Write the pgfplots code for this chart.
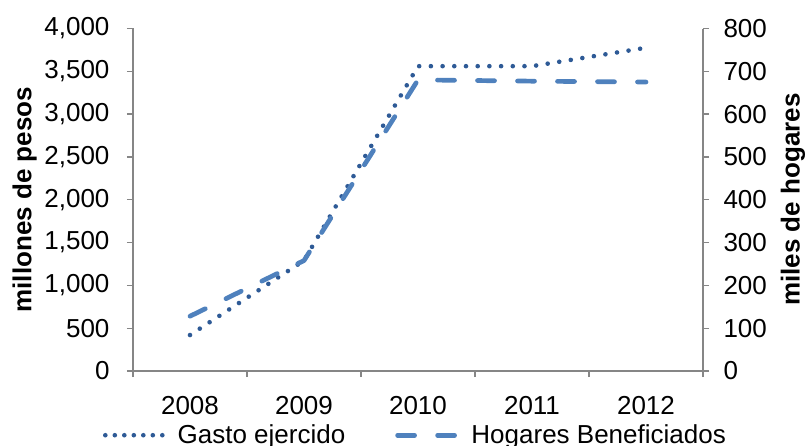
\documentclass[border=0pt]{standalone}
\usepackage{pgfplots}
\pgfplotsset{compat=1.18}
\usepackage{fontspec}
\setmainfont{Liberation Sans}
\definecolor{gastoc}{RGB}{46,90,150}
\definecolor{hogc}{RGB}{79,129,189}
\definecolor{axgray}{RGB}{134,134,134}

\pgfplotstableread{
x y
0 420
1 1290
2 3560
3 3560
4 3775
}\gastotable

\pgfplotstableread{
x y
0 128
1 258
2 680
3 677
4 675
}\hogtable

\pgfplotsset{
  common/.style={
    at={(133pt,74pt)}, anchor=south west,
    scale only axis, width=570pt, height=342.5pt,
    xmin=-0.5, xmax=4.5, ymin=0,
    axis line style={-, draw=axgray, line width=1.3pt},
    tick align=outside, major tick length=6pt,
    every tick/.style={draw=axgray, line width=1.3pt},
    /pgf/number format/assume math mode=true,
    /pgf/number format/1000 sep={,},
    ticklabel style={font=\fontsize{26}{31}\selectfont},
  },
}

\begin{document}
\begin{tikzpicture}[font=\fontsize{26}{31}\selectfont]
\useasboundingbox (0,0) rectangle (809pt,445pt);
\begin{axis}[
  common,
  ymax=4000,
  axis x line*=bottom, axis y line*=left,
  xtick={-0.5,0.5,1.5,2.5,3.5,4.5}, x tick label as interval,
  xticklabels={2008,2009,2010,2011,2012},
  xticklabel style={yshift=-16pt},
  ytick={0,500,...,4000},
  yticklabel style={xshift=-14pt},
  legend columns=2,
  legend cell align=left,
  legend style={at={(-0.0526,-0.1875)}, anchor=west, draw=none, fill=none,
    inner sep=0pt, outer sep=0pt, column sep=0pt, nodes={inner sep=0pt},
    font=\fontsize{26}{31}\selectfont,
    /tikz/every odd column/.append style={column sep=12.5pt},
    /tikz/every even column/.append style={column sep=50pt}},
]
\addplot[gastoc, line width=4.6pt, line cap=round, line join=round,
  dash pattern=on 0pt off 11.7pt,
  legend image code/.code={\draw[gastoc, line width=4.6pt, line cap=round, dash pattern=on 0pt off 9.5pt] (0pt,0pt) -- (57.5pt,0pt);}]
  table[x=x, y=y] {\gastotable};
\addlegendentry{Gasto ejercido}
\addlegendimage{legend image code/.code={\draw[hogc, line width=4.7pt, line cap=round, dash pattern=on 17pt off 23pt] (0pt,0pt) -- (59pt,0pt);}}
\addlegendentry{Hogares Beneficiados}
\end{axis}
\begin{axis}[
  common,
  ymax=800,
  axis x line=none, axis y line*=right,
  ytick={0,100,...,800},
  yticklabel style={xshift=11pt},
]
\addplot[hogc, line width=4.7pt, line cap=round, line join=round,
  dash pattern=on 17pt off 23pt]
  table[x=x, y=y] {\hogtable};
\end{axis}
\node[rotate=90, font=\fontsize{26}{31}\selectfont\bfseries] at (24.7pt,245.3pt) {millones de pesos};
\node[rotate=90, font=\fontsize{26}{31}\selectfont\bfseries] at (793pt,245.3pt) {miles de hogares};
\end{tikzpicture}
\end{document}
